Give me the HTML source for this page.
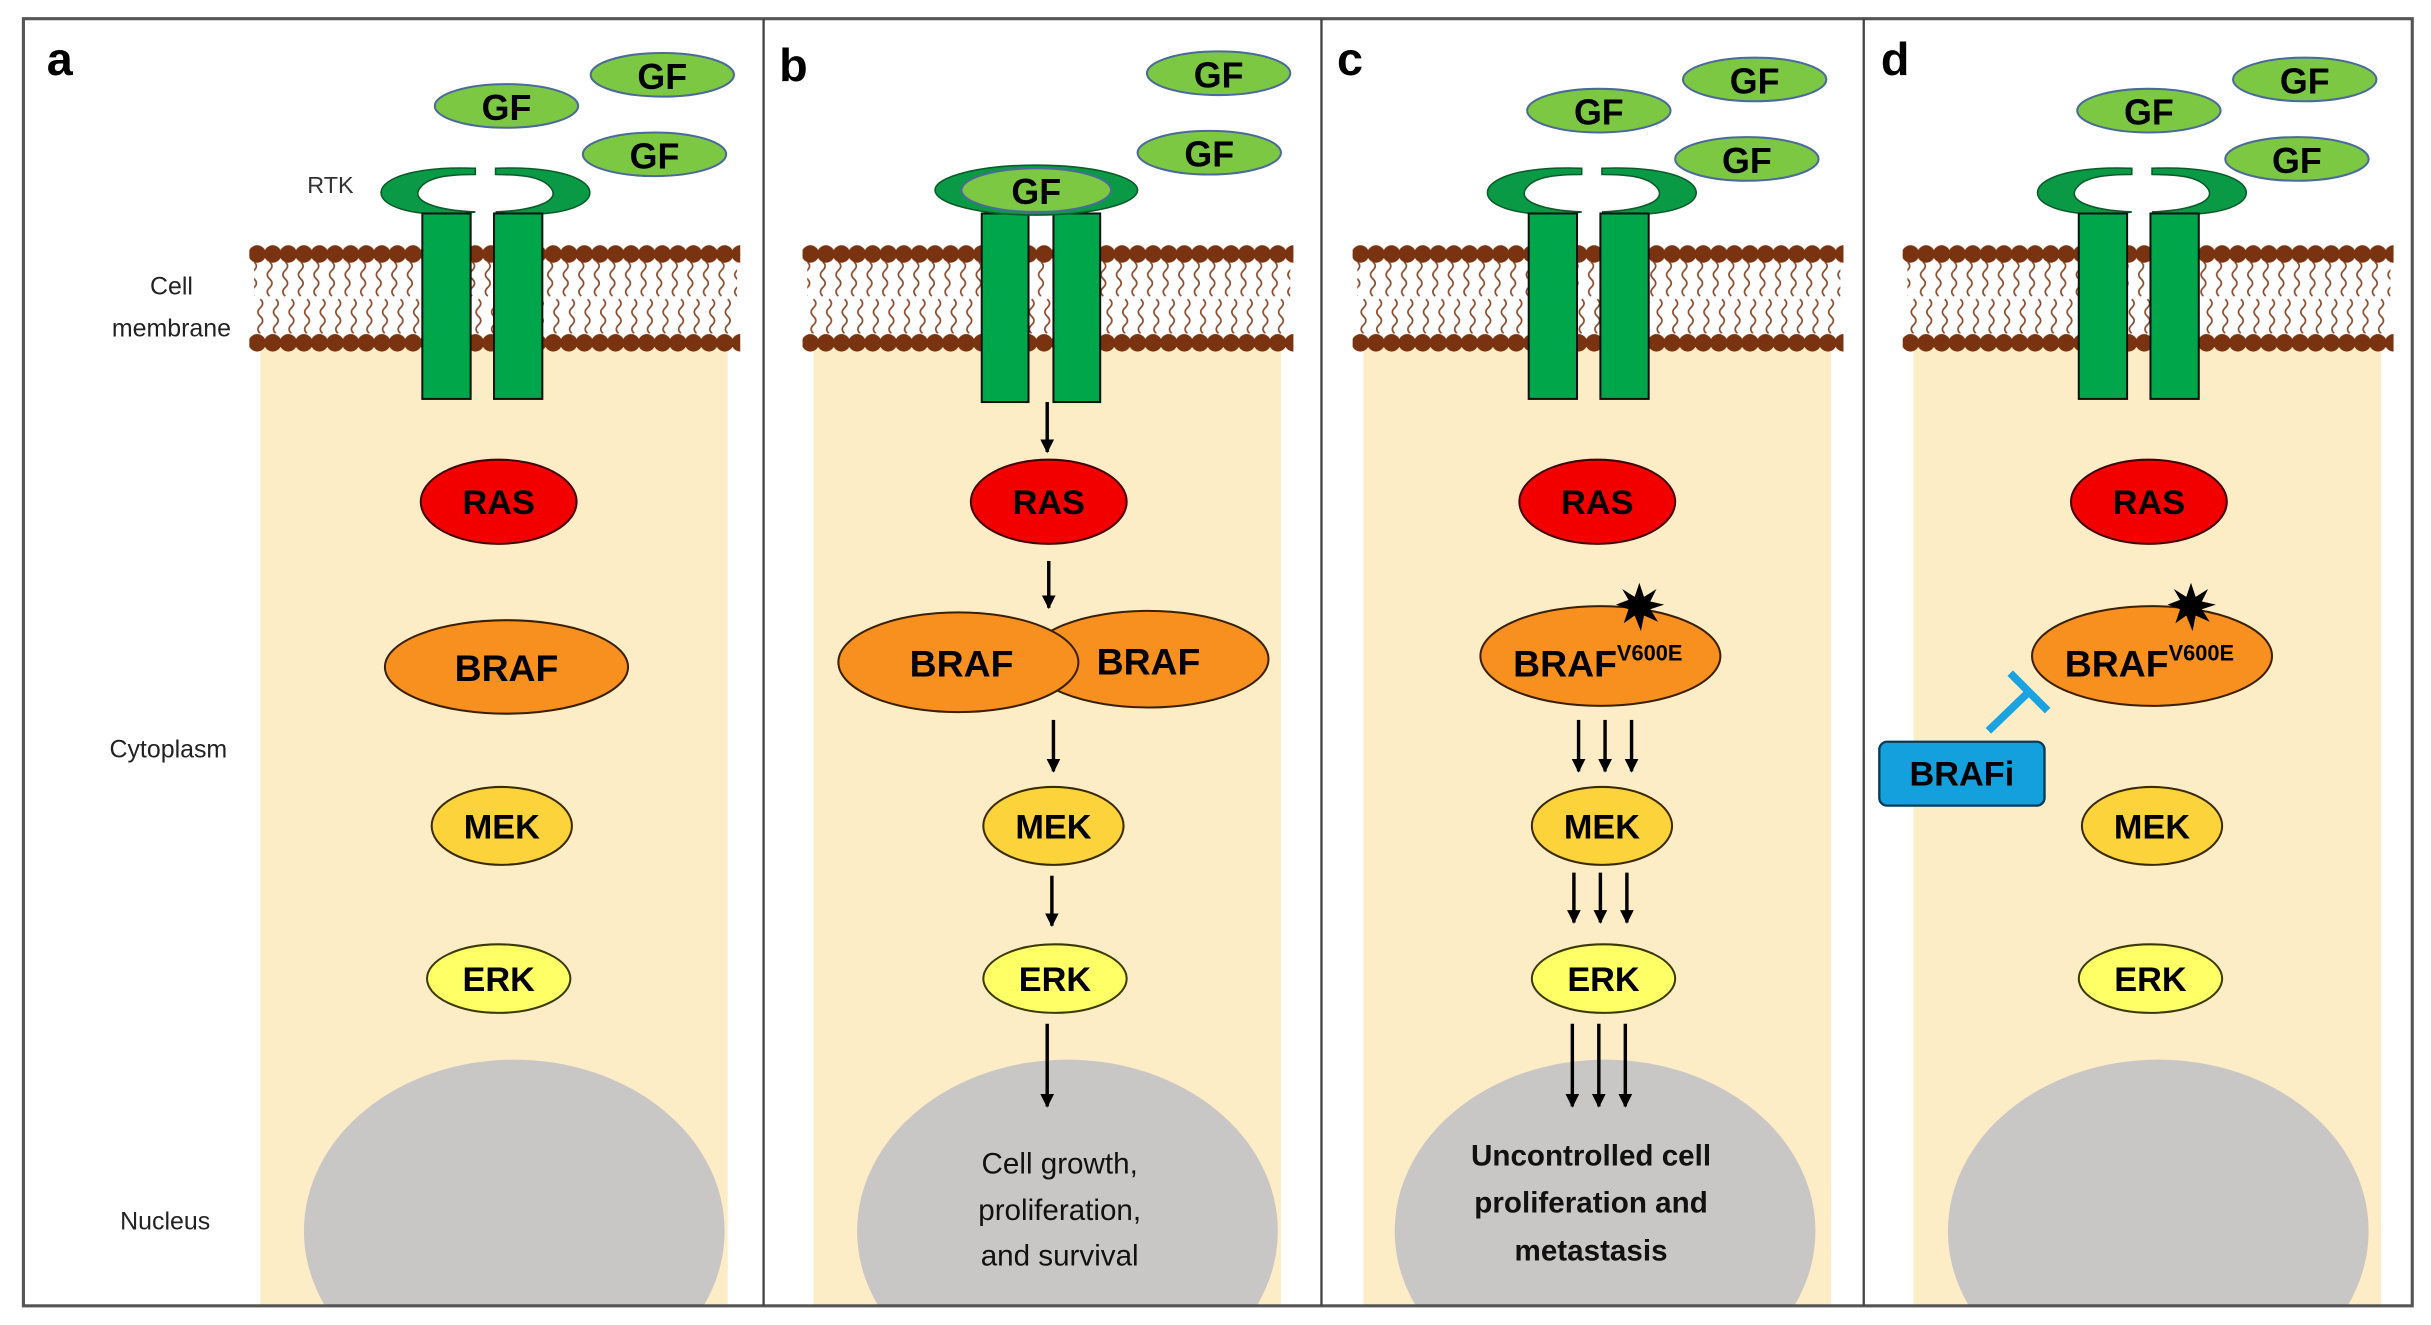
<!DOCTYPE html>
<html><head><meta charset="utf-8"><style>
html,body{margin:0;padding:0;background:#fff;overflow:hidden;width:2431px;height:1325px}
svg{display:block}
text{font-family:"Liberation Sans",sans-serif}
.b{font-weight:bold;text-anchor:middle}
</style></head><body>
<svg width="2431" height="1325" viewBox="0 0 1560 850.3" xmlns="http://www.w3.org/2000/svg">
<defs>
<pattern id="tails" x="0" y="168" width="10" height="48" patternUnits="userSpaceOnUse">
<path d="M3 0 q3 2.75 0 5.5 q-3 2.75 0 5.5 q3 2.75 0 5.5 q-3 2.75 0 5.5 M7 24 q3 2.75 0 5.5 q-3 2.75 0 5.5 q3 2.75 0 5.5 q-3 2.75 0 5.5" fill="none" stroke="#8a4a2a" stroke-width="1.1"/>
</pattern>
<pattern id="headsT" x="0" y="153" width="10" height="20" patternUnits="userSpaceOnUse">
<circle cx="5" cy="10" r="5.6" fill="#7a3310"/>
</pattern>
<pattern id="headsB" x="0" y="210" width="10" height="20" patternUnits="userSpaceOnUse">
<circle cx="5" cy="10" r="5.6" fill="#7a3310"/>
</pattern>
<clipPath id="cl"><rect x="0" y="0" width="1560" height="838"/></clipPath>
<marker id="ah" viewBox="0 0 10 10" refX="9" refY="5" markerWidth="4" markerHeight="4" orient="auto"><path d="M0 0 L10 5 L0 10z" fill="#000"/></marker>
<g id="mem">
<rect x="167" y="220" width="300" height="618" fill="#fdedc7"/>
<rect x="163" y="168" width="310" height="46" fill="url(#tails)"/>
<rect x="160" y="163" width="315" height="1" fill="#7a3310"/>
<rect x="160" y="153" width="315" height="20" fill="url(#headsT)"/>
<rect x="160" y="210" width="315" height="20" fill="url(#headsB)"/>
</g>
<g id="nuc"><ellipse cx="330" cy="790" rx="135" ry="110" fill="#c9c6c6"/></g>
</defs>

<use href="#mem"/>
<use href="#mem" transform="translate(355,0)"/>
<use href="#mem" transform="translate(708,0)"/>
<use href="#mem" transform="translate(1061,0)"/>
<g clip-path="url(#cl)">
<use href="#nuc"/>
<use href="#nuc" transform="translate(355,0)"/>
<use href="#nuc" transform="translate(700,0)"/>
<use href="#nuc" transform="translate(1055,0)"/>
</g>

<!-- frame -->
<rect x="15" y="12" width="1533" height="826" fill="none" stroke="#555" stroke-width="2"/>
<line x1="490" y1="12" x2="490" y2="838" stroke="#444" stroke-width="1.5"/>
<line x1="848" y1="12" x2="848" y2="838" stroke="#444" stroke-width="1.5"/>
<line x1="1196" y1="12" x2="1196" y2="838" stroke="#444" stroke-width="1.5"/>

<g id="rtk">
<path d="M305 108 C250 106 235 122 250 131 C262 138 288 139 305 136 C280 135 262 129 270 120 C276 113 290 112 305 112 Z" fill="#0a9a45" stroke="#0a5a2a" stroke-width="1"/>
<path d="M318 108 C373 106 388 122 373 131 C361 138 335 139 318 136 C343 135 361 129 353 120 C347 113 333 112 318 112 Z" fill="#0a9a45" stroke="#0a5a2a" stroke-width="1"/>
<rect x="271" y="137" width="31" height="119" fill="#00a64a" stroke="#111" stroke-width="1.3"/>
<rect x="317" y="137" width="31" height="119" fill="#00a64a" stroke="#111" stroke-width="1.3"/>
</g>
<use href="#rtk" transform="translate(710,0)"/>
<use href="#rtk" transform="translate(1063,0)"/>
<rect x="630" y="137" width="30" height="121" fill="#00a64a" stroke="#111" stroke-width="1.3"/>
<rect x="676" y="137" width="30" height="121" fill="#00a64a" stroke="#111" stroke-width="1.3"/>
<ellipse cx="665" cy="122" rx="65" ry="16" fill="#0a9a45" stroke="#0a5a2a"/>
<ellipse cx="665" cy="122" rx="48" ry="14" fill="#7dc843" stroke="#4a6a9a" stroke-width="1.3"/>
<text x="665" y="131" class="b" font-size="23">GF</text>

<g font-size="23">
<g id="gfa">
<ellipse cx="325" cy="68" rx="46" ry="14" fill="#7dc843" stroke="#4a6a9a" stroke-width="1.3"/><text x="325" y="77" class="b">GF</text>
<ellipse cx="425" cy="48" rx="46" ry="14" fill="#7dc843" stroke="#4a6a9a" stroke-width="1.3"/><text x="425" y="57" class="b">GF</text>
<ellipse cx="420" cy="99" rx="46" ry="14" fill="#7dc843" stroke="#4a6a9a" stroke-width="1.3"/><text x="420" y="108" class="b">GF</text>
</g>
<ellipse cx="782" cy="47" rx="46" ry="14" fill="#7dc843" stroke="#4a6a9a" stroke-width="1.3"/><text x="782" y="56" class="b">GF</text>
<ellipse cx="776" cy="98" rx="46" ry="14" fill="#7dc843" stroke="#4a6a9a" stroke-width="1.3"/><text x="776" y="107" class="b">GF</text>
<use href="#gfa" transform="translate(701,3)"/>
<use href="#gfa" transform="translate(1054,3)"/>
</g>

<text x="30" y="48" font-size="30" font-weight="bold">a</text>
<text x="500" y="52" font-size="30" font-weight="bold">b</text>
<text x="858" y="48" font-size="30" font-weight="bold">c</text>
<text x="1207" y="48" font-size="30" font-weight="bold">d</text>
<text x="212" y="124" font-size="15" text-anchor="middle" fill="#333">RTK</text>
<text x="110" y="189" font-size="16" text-anchor="middle" fill="#222">Cell</text>
<text x="110" y="216" font-size="16" text-anchor="middle" fill="#222">membrane</text>
<text x="108" y="486" font-size="16" text-anchor="middle" fill="#222">Cytoplasm</text>
<text x="106" y="789" font-size="16" text-anchor="middle" fill="#222">Nucleus</text>

<g font-size="22" stroke-width="1.3">
<g id="ras"><ellipse cx="320" cy="322" rx="50" ry="27" fill="#f20000" stroke="#400"/><text x="320" y="330" class="b">RAS</text></g>
<use href="#ras" transform="translate(353,0)"/>
<use href="#ras" transform="translate(705,0)"/>
<use href="#ras" transform="translate(1059,0)"/>
<ellipse cx="325" cy="428" rx="78" ry="30" fill="#f7901e" stroke="#3a2000"/><text x="325" y="437" class="b" font-size="24">BRAF</text>
<ellipse cx="737" cy="423" rx="77" ry="31" fill="#f7901e" stroke="#3a2000"/>
<ellipse cx="615" cy="425" rx="77" ry="32" fill="#f7901e" stroke="#3a2000"/>
<text x="617" y="434" class="b" font-size="24">BRAF</text><text x="737" y="433" class="b" font-size="24">BRAF</text>
<g id="mut">
<ellipse cx="1027" cy="421" rx="77" ry="32" fill="#f7901e" stroke="#3a2000"/>
<text x="971" y="434" font-size="24" font-weight="bold">BRAF<tspan font-size="14" dy="-10">V600E</tspan></text>
<polygon points="1052,374 1055,383 1063,378 1059,386 1068,388 1059,391 1064,399 1055,395 1053,405 1049,395 1042,400 1045,391 1037,388 1045,385 1041,378 1049,383" fill="#000"/>
</g>
<use href="#mut" transform="translate(354,0)"/>
<g id="mek"><ellipse cx="322" cy="530" rx="45" ry="25" fill="#fcd33b" stroke="#3a2a00"/><text x="322" y="538" class="b">MEK</text></g>
<use href="#mek" transform="translate(354,0)"/>
<use href="#mek" transform="translate(706,0)"/>
<use href="#mek" transform="translate(1059,0)"/>
<g id="erk"><ellipse cx="320" cy="628" rx="46" ry="22" fill="#ffff66" stroke="#3a3a00"/><text x="320" y="636" class="b">ERK</text></g>
<use href="#erk" transform="translate(357,0)"/>
<use href="#erk" transform="translate(709,0)"/>
<use href="#erk" transform="translate(1060,0)"/>
</g>

<g stroke="#000" stroke-width="2.2" marker-end="url(#ah)">
<line x1="672" y1="258" x2="672" y2="290"/>
<line x1="673" y1="360" x2="673" y2="390"/>
<line x1="676" y1="462" x2="676" y2="495"/>
<line x1="675" y1="562" x2="675" y2="594"/>
<line x1="672" y1="657" x2="672" y2="710"/>
<line x1="1013" y1="462" x2="1013" y2="495"/><line x1="1030" y1="462" x2="1030" y2="495"/><line x1="1047" y1="462" x2="1047" y2="495"/>
<line x1="1010" y1="560" x2="1010" y2="592"/><line x1="1027" y1="560" x2="1027" y2="592"/><line x1="1044" y1="560" x2="1044" y2="592"/>
<line x1="1009" y1="657" x2="1009" y2="710"/><line x1="1026" y1="657" x2="1026" y2="710"/><line x1="1043" y1="657" x2="1043" y2="710"/>
</g>

<g font-size="19" text-anchor="middle" fill="#111">
<text x="680" y="753">Cell growth,</text>
<text x="680" y="783">proliferation,</text>
<text x="680" y="812">and survival</text>
</g>
<g font-size="19" text-anchor="middle" font-weight="bold" fill="#111">
<text x="1021" y="748">Uncontrolled cell</text>
<text x="1021" y="778">proliferation and</text>
<text x="1021" y="809">metastasis</text>
</g>

<line x1="1276" y1="469" x2="1303" y2="443" stroke="#1aa3e0" stroke-width="5"/>
<line x1="1290" y1="432" x2="1314" y2="456" stroke="#1aa3e0" stroke-width="5"/>
<rect x="1206" y="476" width="106" height="41" rx="5" fill="#14a0dc" stroke="#0a3a5a" stroke-width="1.5"/>
<text x="1259" y="504" class="b" font-size="22">BRAFi</text>
</svg>
</body></html>
